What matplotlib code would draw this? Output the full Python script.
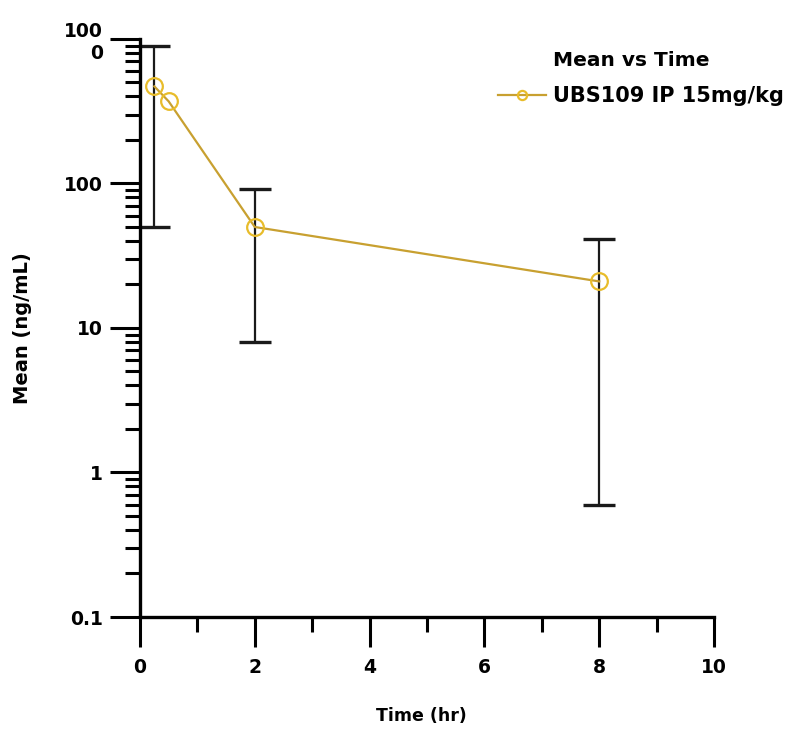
import matplotlib.pyplot as plt
from matplotlib.ticker import FixedLocator, FixedFormatter, NullFormatter

plt.rcParams['font.family'] = 'DejaVu Sans'
plt.rcParams['font.weight'] = 'bold'

# mean concentration over time
time_hr = [0.25, 0.5, 2, 8]
mean_ng = [470, 370, 50, 21]

# points that carry an SD bar
sd_time = [0.25, 2, 8]
sd_mean = [470, 50, 21]
sd_val = [420, 42, 20.4]

series_label = 'UBS109 IP 15mg/kg'
legend_title = 'Mean vs Time'

y_major = [0.1, 1, 10, 100, 1000]
y_labels = ['0.1', '1', '10', '100', '100\n0']
x_major = [0, 2, 4, 6, 8, 10]

fig = plt.figure(figsize=(7.85, 7.34), dpi=100)
ax = fig.add_axes([0.1783, 0.1594, 0.7313, 0.7875])

ax.errorbar(sd_time, sd_mean, yerr=sd_val, fmt='none', ecolor='#1a1a1a',
            elinewidth=1.6, capsize=11.5, capthick=2.4, zorder=2)
ax.plot(time_hr, mean_ng, color='#c8a030', lw=1.6, marker='o', ms=12,
        mfc='none', mec='#e8bc2a', mew=1.6, label=series_label, zorder=3)

ax.set_yscale('log')
ax.set_ylim(0.1, 1000)
ax.set_xlim(0, 10)

ax.yaxis.set_major_locator(FixedLocator(y_major))
ax.yaxis.set_major_formatter(FixedFormatter(y_labels))
minors = [m * 10.0 ** e for e in range(-1, 3) for m in range(2, 10)]
ax.yaxis.set_minor_locator(FixedLocator(minors))
ax.yaxis.set_minor_formatter(NullFormatter())

ax.xaxis.set_major_locator(FixedLocator(x_major))
ax.xaxis.set_minor_locator(FixedLocator([1, 3, 5, 7, 9]))

for s in ['top', 'right']:
    ax.spines[s].set_visible(False)
for s in ['left', 'bottom']:
    ax.spines[s].set_linewidth(2.4)

ax.tick_params(axis='both', which='major', length=21.5, width=2.2, labelsize=13.5)
ax.tick_params(axis='y', which='major', pad=5)
ax.tick_params(axis='x', which='major', pad=8)
ax.tick_params(axis='both', which='minor', length=10.8, width=2.2)
for t in ax.get_yticklabels():
    t.set_multialignment('right')

ax.set_xlabel('Time (hr)', fontsize=12.5, fontweight='bold')
ax.set_ylabel('Mean (ng/mL)', fontsize=14, fontweight='bold')
ax.xaxis.set_label_coords(0.49, -0.156)
ax.yaxis.set_label_coords(-0.188, 0.5)

leg = ax.legend(loc='upper left', bbox_to_anchor=(0.623, 0.919), frameon=False,
                fontsize=15, handlelength=2.3, handletextpad=0.35, markerscale=0.55,
                borderaxespad=0, borderpad=0)
ax.text(0.72, 0.98, legend_title, transform=ax.transAxes, fontsize=14.5,
        ha='left', va='top')

fig.savefig('out.png', dpi=100)
